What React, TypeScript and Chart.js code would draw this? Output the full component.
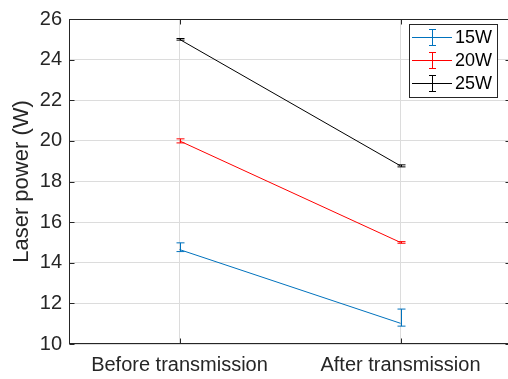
import React, { useEffect, useRef } from "react";
import { Chart, registerables } from "chart.js";

Chart.register(...registerables);

const categories = ["Before transmission", "After transmission"];
const seriesNames = ["15W", "20W", "25W"];
const seriesColors = ["#0072BD", "#FF0000", "#000000"];

const power15 = [14.65, 11.02];
const power15Low = [14.55, 10.88];
const power15High = [14.98, 11.72];

const power20 = [20.0, 15.0];
const power20Low = [19.9, 14.96];
const power20High = [20.1, 15.04];

const power25 = [25.0, 18.77];
const power25Low = [24.96, 18.72];
const power25High = [25.04, 18.82];

const yTicks = [10, 12, 14, 16, 18, 20, 22, 24, 26];

const seriesValues = [power15, power20, power25];
const seriesLow = [power15Low, power20Low, power25Low];
const seriesHigh = [power15High, power20High, power25High];

const FONT = "'Liberation Sans', Arial, Helvetica, sans-serif";
const AXIS_COLOR = "#262626";
const GRID_COLOR = "#dcdcdc";

const W = 512;
const H = 379;

const errorBarPlugin = {
  id: "errorBars",
  afterDatasetsDraw(chart: any) {
    const { ctx, scales } = chart;
    const xs = scales.x;
    const ys = scales.y;
    ctx.save();
    ctx.lineWidth = 1;
    chart.data.datasets.forEach((ds: any, i: number) => {
      ctx.strokeStyle = ds.borderColor;
      ds.data.forEach((pt: any, j: number) => {
        const x = Math.round(xs.getPixelForValue(pt.x)) + 0.5;
        const yl = ys.getPixelForValue(seriesLow[i][j]);
        const yh = ys.getPixelForValue(seriesHigh[i][j]);
        ctx.beginPath();
        ctx.moveTo(x, yl);
        ctx.lineTo(x, yh);
        ctx.moveTo(x - 4, yl);
        ctx.lineTo(x + 4, yl);
        ctx.moveTo(x - 4, yh);
        ctx.lineTo(x + 4, yh);
        ctx.stroke();
      });
    });
    ctx.restore();
  },
};

const boxPlugin = {
  id: "boxAndLegend",
  afterDraw(chart: any) {
    const { ctx, chartArea, scales } = chart;
    const { left, right, top, bottom } = chartArea;
    ctx.save();
    ctx.strokeStyle = AXIS_COLOR;
    ctx.lineWidth = 1;
    const l = Math.round(left) + 0.5;
    const r = Math.round(right) - 0.5;
    const t = Math.round(top) + 0.5;
    const b = Math.round(bottom) - 0.5;
    ctx.strokeRect(l, t, r - l, b - t);
    // inner ticks
    ctx.beginPath();
    yTicks.forEach((v) => {
      const y = Math.round(scales.y.getPixelForValue(v)) + 0.5;
      ctx.moveTo(l, y);
      ctx.lineTo(l + 5, y);
      ctx.moveTo(r, y);
      ctx.lineTo(r - 5, y);
    });
    categories.forEach((_, i) => {
      const x = Math.round(scales.x.getPixelForValue(i + 1)) + 0.5;
      ctx.moveTo(x, b);
      ctx.lineTo(x, b - 5);
      ctx.moveTo(x, t);
      ctx.lineTo(x, t + 5);
    });
    ctx.stroke();

    // legend
    const lx = 409.5;
    const ly = 24.5;
    const lw = 88;
    const lh = 73;
    ctx.fillStyle = "#ffffff";
    ctx.fillRect(lx, ly, lw, lh);
    ctx.strokeStyle = AXIS_COLOR;
    ctx.strokeRect(lx, ly, lw, lh);
    const rows = [37.5, 60.5, 83.5];
    seriesNames.forEach((name, i) => {
      const y = rows[i];
      ctx.strokeStyle = seriesColors[i];
      ctx.beginPath();
      ctx.moveTo(412, y);
      ctx.lineTo(452, y);
      ctx.moveTo(432.5, y - 8);
      ctx.lineTo(432.5, y + 8);
      ctx.moveTo(429, y - 8);
      ctx.lineTo(436, y - 8);
      ctx.moveTo(429, y + 8);
      ctx.lineTo(436, y + 8);
      ctx.stroke();
      ctx.fillStyle = "#000000";
      ctx.font = `18px ${FONT}`;
      ctx.textBaseline = "middle";
      ctx.textAlign = "left";
      ctx.fillText(name, 455, y + 1);
    });
    ctx.restore();
  },
};

export default function App() {
  const canvasRef = useRef<HTMLCanvasElement | null>(null);

  useEffect(() => {
    const canvas = canvasRef.current;
    if (!canvas) return;
    const chart = new Chart(canvas, {
      type: "line",
      data: {
        datasets: seriesNames.map((name, i) => ({
          label: name,
          data: seriesValues[i].map((v, j) => ({ x: j + 1, y: v })),
          borderColor: seriesColors[i],
          backgroundColor: seriesColors[i],
          borderWidth: 1,
          pointRadius: 0,
          tension: 0,
        })),
      },
      options: {
        responsive: false,
        maintainAspectRatio: false,
        animation: false,
        devicePixelRatio: 1,
        layout: { padding: { top: 15, right: 1, left: 0, bottom: 0 } },
        plugins: {
          legend: { display: false },
          tooltip: { enabled: false },
        },
        scales: {
          x: {
            type: "linear",
            min: 0.5,
            max: 2.5,
            afterBuildTicks: (scale: any) => {
              scale.ticks = categories.map((_, i) => ({ value: i + 1 }));
            },
            afterFit: (scale: any) => {
              scale.height = 35;
            },
            ticks: {
              autoSkip: false,
              maxRotation: 0,
              padding: 9,
              color: AXIS_COLOR,
              font: { family: FONT, size: 20 },
              callback: (v: any) => categories[Math.round(v) - 1] ?? "",
            },
            grid: { color: GRID_COLOR, drawTicks: false, lineWidth: 1 },
            border: { display: false },
          },
          y: {
            type: "linear",
            min: 10,
            max: 26,
            afterBuildTicks: (scale: any) => {
              scale.ticks = yTicks.map((v) => ({ value: v }));
            },
            afterFit: (scale: any) => {
              scale.width = 69;
            },
            ticks: {
              padding: 7,
              color: AXIS_COLOR,
              font: { family: FONT, size: 20 },
            },
            grid: { color: GRID_COLOR, drawTicks: false, lineWidth: 1 },
            border: { display: false },
            title: {
              display: true,
              text: "Laser power (W)",
              color: AXIS_COLOR,
              font: { family: FONT, size: 22 },
              padding: { top: 9, bottom: 0 },
            },
          },
        },
      },
      plugins: [errorBarPlugin, boxPlugin],
    } as any);
    return () => chart.destroy();
  }, []);

  return (
    <div style={{ position: "fixed", left: 0, top: 0, width: W, height: H, background: "#ffffff" }}>
      <canvas ref={canvasRef} width={W} height={H} style={{ width: W, height: H, display: "block" }} />
    </div>
  );
}
